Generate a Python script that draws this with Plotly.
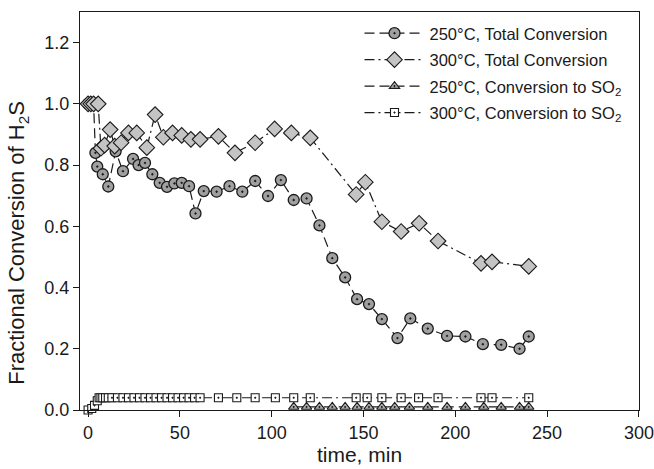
import plotly.graph_objects as go

# 250 °C, total conversion
t250_total = [0, 1, 2, 3, 4, 5, 8, 11, 15, 19, 24.5, 27.5, 31, 35, 39, 43, 47, 51, 55, 58.5,
              63, 70, 77, 84, 91, 98, 105, 112, 119, 126, 133, 140, 146.5, 153, 160, 168.5,
              175.5, 185, 195.5, 205.5, 215, 225, 235, 240]
v250_total = [1.0, 1.0, 1.0, 1.0, 0.84, 0.795, 0.77, 0.73, 0.845, 0.78, 0.82, 0.80, 0.807, 0.77,
              0.742, 0.729, 0.74, 0.742, 0.731, 0.642, 0.715, 0.713, 0.731, 0.713, 0.748, 0.699,
              0.751, 0.686, 0.691, 0.603, 0.496, 0.433, 0.362, 0.346, 0.297, 0.235, 0.299, 0.266,
              0.242, 0.240, 0.215, 0.213, 0.20, 0.24]

# 300 °C, total conversion
t300_total = [0, 1.5, 3, 5.5, 7, 9, 12, 14.5, 18, 22, 26.5, 32, 36.5, 41, 46, 51, 56, 61, 71, 80,
              91, 101.6, 110.7, 121, 146, 151, 160, 170.5, 180.3, 190.6, 214, 220, 240]
v300_total = [1.0, 1.0, 1.0, 1.0, 0.855, 0.865, 0.916, 0.862, 0.873, 0.905, 0.905, 0.857, 0.965,
              0.891, 0.905, 0.897, 0.884, 0.884, 0.894, 0.84, 0.873, 0.918, 0.905, 0.889, 0.704,
              0.744, 0.615, 0.583, 0.61, 0.552, 0.479, 0.484, 0.469]

# 250 °C, conversion to SO2
t250_so2 = [112, 119, 126, 133, 140, 146.5, 153, 160, 167, 175, 185, 195.5, 205.5, 215.5, 225,
            235, 240]
v250_so2 = [0.01, 0.01, 0.01, 0.01, 0.01, 0.01, 0.01, 0.01, 0.01, 0.01, 0.01, 0.01, 0.01, 0.01,
            0.01, 0.01, 0.01]

# 300 °C, conversion to SO2
t300_so2 = [0, 2, 3.5, 5, 6, 7, 8, 9.5, 11, 13, 16, 19, 22, 25, 28, 31, 34, 37, 40, 43, 46, 49,
            52, 55, 58, 61, 71, 81, 91, 102, 112, 121, 146, 152, 160, 170.5, 180, 190.6, 214,
            220, 240]
v300_so2 = [0.0, 0.005, 0.015, 0.03] + [0.04] * 37

x_ticks = [0, 50, 100, 150, 200, 250, 300]
y_ticks = [0.0, 0.2, 0.4, 0.6, 0.8, 1.0, 1.2]
y_tick_labels = ["0.0", "0.2", "0.4", "0.6", "0.8", "1.0", "1.2"]

FONT = "Liberation Sans, Arial, sans-serif"
INK = "#1a1a1a"

fig = go.Figure()

fig.add_trace(go.Scatter(
    x=t250_total, y=v250_total, mode="lines+markers", cliponaxis=False,
    name="250°C, Total Conversion", legendgroup="a",
    line=dict(color=INK, width=1.2, dash="10px,5px"),
    marker=dict(symbol="circle-dot", size=11, color="#a0a0a0",
                line=dict(color=INK, width=1.3)),
))
fig.add_trace(go.Scatter(
    x=t300_total, y=v300_total, mode="lines+markers", cliponaxis=False,
    name="300°C, Total Conversion", legendgroup="b",
    line=dict(color=INK, width=1.2, dash="10px,4px,2px,4px"),
    marker=dict(symbol="diamond", size=12, color="#c4c4c4",
                line=dict(color=INK, width=1.1)),
))
fig.add_trace(go.Scatter(
    x=t250_so2, y=v250_so2, mode="lines+markers", cliponaxis=False,
    name="250°C, Conversion to SO<sub>2</sub>", legendgroup="c",
    line=dict(color=INK, width=1.2, dash="10px,5px"),
    marker=dict(symbol="triangle-up-dot", size=9, color="#b0b0b0",
                line=dict(color=INK, width=1.1)),
))
fig.add_trace(go.Scatter(
    x=t300_so2, y=v300_so2, mode="lines+markers", cliponaxis=False,
    name="300°C, Conversion to SO<sub>2</sub>", legendgroup="d",
    line=dict(color=INK, width=1.2, dash="10px,4px,2px,4px"),
    marker=dict(symbol="square-dot", size=8, color="white",
                line=dict(color=INK, width=1.1)),
))

fig.update_layout(
    width=654, height=469,
    margin=dict(l=80, r=15, t=12, b=59),
    paper_bgcolor="white", plot_bgcolor="white",
    font=dict(family=FONT, color=INK, size=16),
    showlegend=True,
    legend=dict(x=0.50, y=0.99, xanchor="left", yanchor="top",
                bgcolor="rgba(0,0,0,0)", borderwidth=0,
                font=dict(size=16.5, family=FONT, color=INK),
                itemwidth=60, tracegroupgap=2),
    annotations=[dict(
        text="Fractional Conversion of H<sub>2</sub>S", textangle=-90,
        xref="paper", yref="paper", x=-0.111, y=0.42,
        xanchor="center", yanchor="middle", showarrow=False,
        font=dict(size=22, family=FONT, color=INK),
    )],
)
fig.update_xaxes(
    range=[-4.4, 300.05], tickvals=x_ticks, ticks="outside", ticklen=6,
    tickwidth=1.2, tickcolor=INK, showline=True, linecolor=INK, linewidth=1.3,
    mirror=True, showgrid=False, zeroline=False, automargin=False,
    tickfont=dict(size=18),
    title=dict(text="time, min", font=dict(size=21), standoff=2),
)
fig.update_yaxes(
    range=[0, 1.3], tickvals=y_ticks, ticktext=y_tick_labels, ticks="outside",
    ticklen=6, tickwidth=1.2, tickcolor=INK, showline=True, linecolor=INK,
    linewidth=1.3, mirror=True, showgrid=False, zeroline=False, automargin=False,
    tickfont=dict(size=18),
)

fig.write_html("out.html")
